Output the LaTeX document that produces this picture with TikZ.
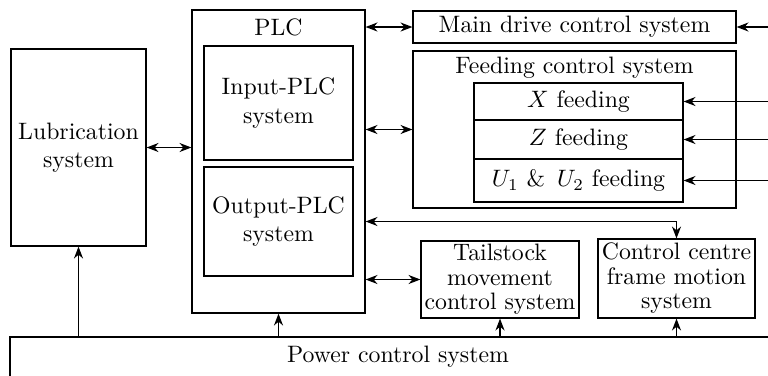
\documentclass[tikz,border=0pt]{standalone}
\usepackage{amsmath}
\usetikzlibrary{arrows,arrows.meta}

\newcommand{\pxl}{0.421pt}

\begin{document}
\begin{tikzpicture}[x=0.421pt,y=-0.421pt,->,>={Stealth[length=5pt,width=3.8pt,inset=1.6pt]},line width=0.5pt]
        \tikzstyle{block}=[draw, rectangle, align=center, inner sep=1pt]
        \tikzstyle{tight}=[font=\fontsize{10pt}{10.3pt}\selectfont]
        \useasboundingbox (0,0) rectangle (768,375);

        \node[block, minimum width=135*\pxl, minimum height=197*\pxl] (lub) at (78.5,147.5) {Lubrication\\system};
        \node[block, minimum width=173*\pxl, minimum height=303*\pxl] (plc) at (278.5,161.5) {};
        \node (plclabel) at (278.5,27) {PLC};
        \node[block, minimum width=149*\pxl, minimum height=114*\pxl] (inplc) at (278.5,103) {Input-PLC\\system};
        \node[block, minimum width=149*\pxl, minimum height=109*\pxl] (outplc) at (278.5,221.5) {Output-PLC\\system};

        \node[block, minimum width=323*\pxl, minimum height=32*\pxl] (main) at (574.5,27) {Main drive control system};
        \node[block, minimum width=323*\pxl, minimum height=157*\pxl] (feed) at (574.5,129.5) {};
        \node (feedlabel) at (574.5,68) {Feeding control system};
        \node[block, minimum width=209*\pxl, minimum height=37*\pxl] (xf) at (578.5,101.5) {$X$ feeding};
        \node[block, minimum width=209*\pxl, minimum height=39*\pxl] (zf) at (578.5,139.5) {$Z$ feeding};
        \node[block, minimum width=209*\pxl, minimum height=43*\pxl] (uf) at (578.5,180.5) {$U_1$ \& \,$U_2$ feeding};

        \node[block, tight, minimum width=158*\pxl, minimum height=77*\pxl] (tail) at (500,279.5) {Tailstock\\movement\\control system};
        \node[block, tight, minimum width=157*\pxl, minimum height=79*\pxl] (ccf) at (676.5,278.5) {Control centre\\frame motion\\system};
        \node[block, minimum width=776*\pxl, minimum height=40*\pxl] (power) at (398,357) {Power control system};

        \coordinate (redge) at (772,27);

        \draw[<->] (lub.east) -- (lub.east -| plc.west);
        \draw[<->] (main.west -| plc.east) -- (main.west);
        \draw[<->] (feed.west -| plc.east) -- (feed.west);
        \draw[<->] (outplc.east -| plc.east) -| (ccf.north);
        \draw[<->] (tail.west -| plc.east) -- (tail.west);

        \draw (redge) -- (main.east);
        \draw (xf.east -| redge) -- (xf.east);
        \draw (zf.east -| redge) -- (zf.east);
        \draw (uf.east -| redge) -- (uf.east);

        \draw (power.north -| lub.south) -- (lub.south);
        \draw (power.north -| plc.south) -- (plc.south);
        \draw (power.north -| tail.south) -- (tail.south);
        \draw (power.north -| ccf.south) -- (ccf.south);

\end{tikzpicture}
\end{document}
